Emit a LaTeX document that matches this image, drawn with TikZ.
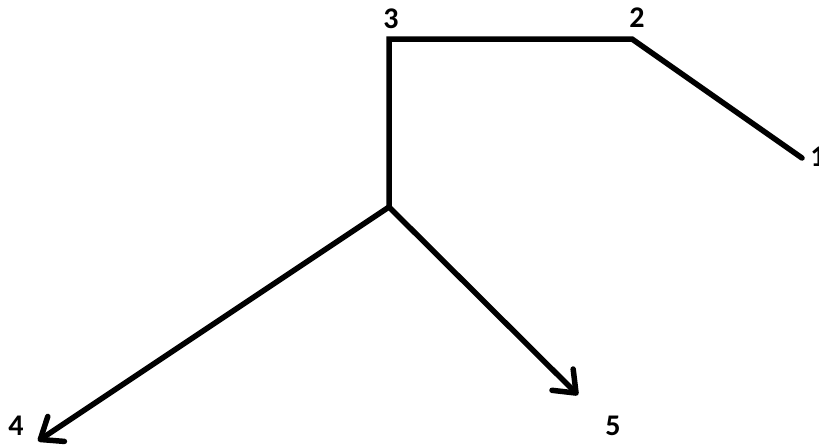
\documentclass[tikz,border=0pt]{standalone}
\usepackage{fontspec}
\setmainfont{Carlito}
\usetikzlibrary{arrows.meta}
\tikzset{
  lbl/.style={font=\bfseries\fontsize{30}{30}\selectfont, inner sep=0pt},
  seg/.style={line width=5.5pt, line cap=round, line join=miter},
  arr/.style={seg, -{Straight Barb[length=19pt, width=30pt, line width=5.5pt, round]}}
}
\begin{document}
\begin{tikzpicture}[x=1pt, y=-1pt]
  \useasboundingbox (0,0) rectangle (819,445);
  \coordinate (p1) at (802,158);
  \coordinate (p2) at (632,39);
  \coordinate (p3) at (389,39);
  \coordinate (j) at (389,207);
  \coordinate (p4) at (38,441);
  \coordinate (p5) at (578,395);
  \draw[seg] (p1) -- (p2) -- (p3) -- (j);
  \draw[arr] (j) -- (p4);
  \draw[arr] (j) -- (p5);
  \node[lbl] (l1) at (818,157) {1};
  \node[lbl] (l2) at (637,18) {2};
  \node[lbl] (l3) at (391,19) {3};
  \node[lbl] (l4) at (16,426) {4};
  \node[lbl] (l5) at (613,426) {5};
\end{tikzpicture}
\end{document}
